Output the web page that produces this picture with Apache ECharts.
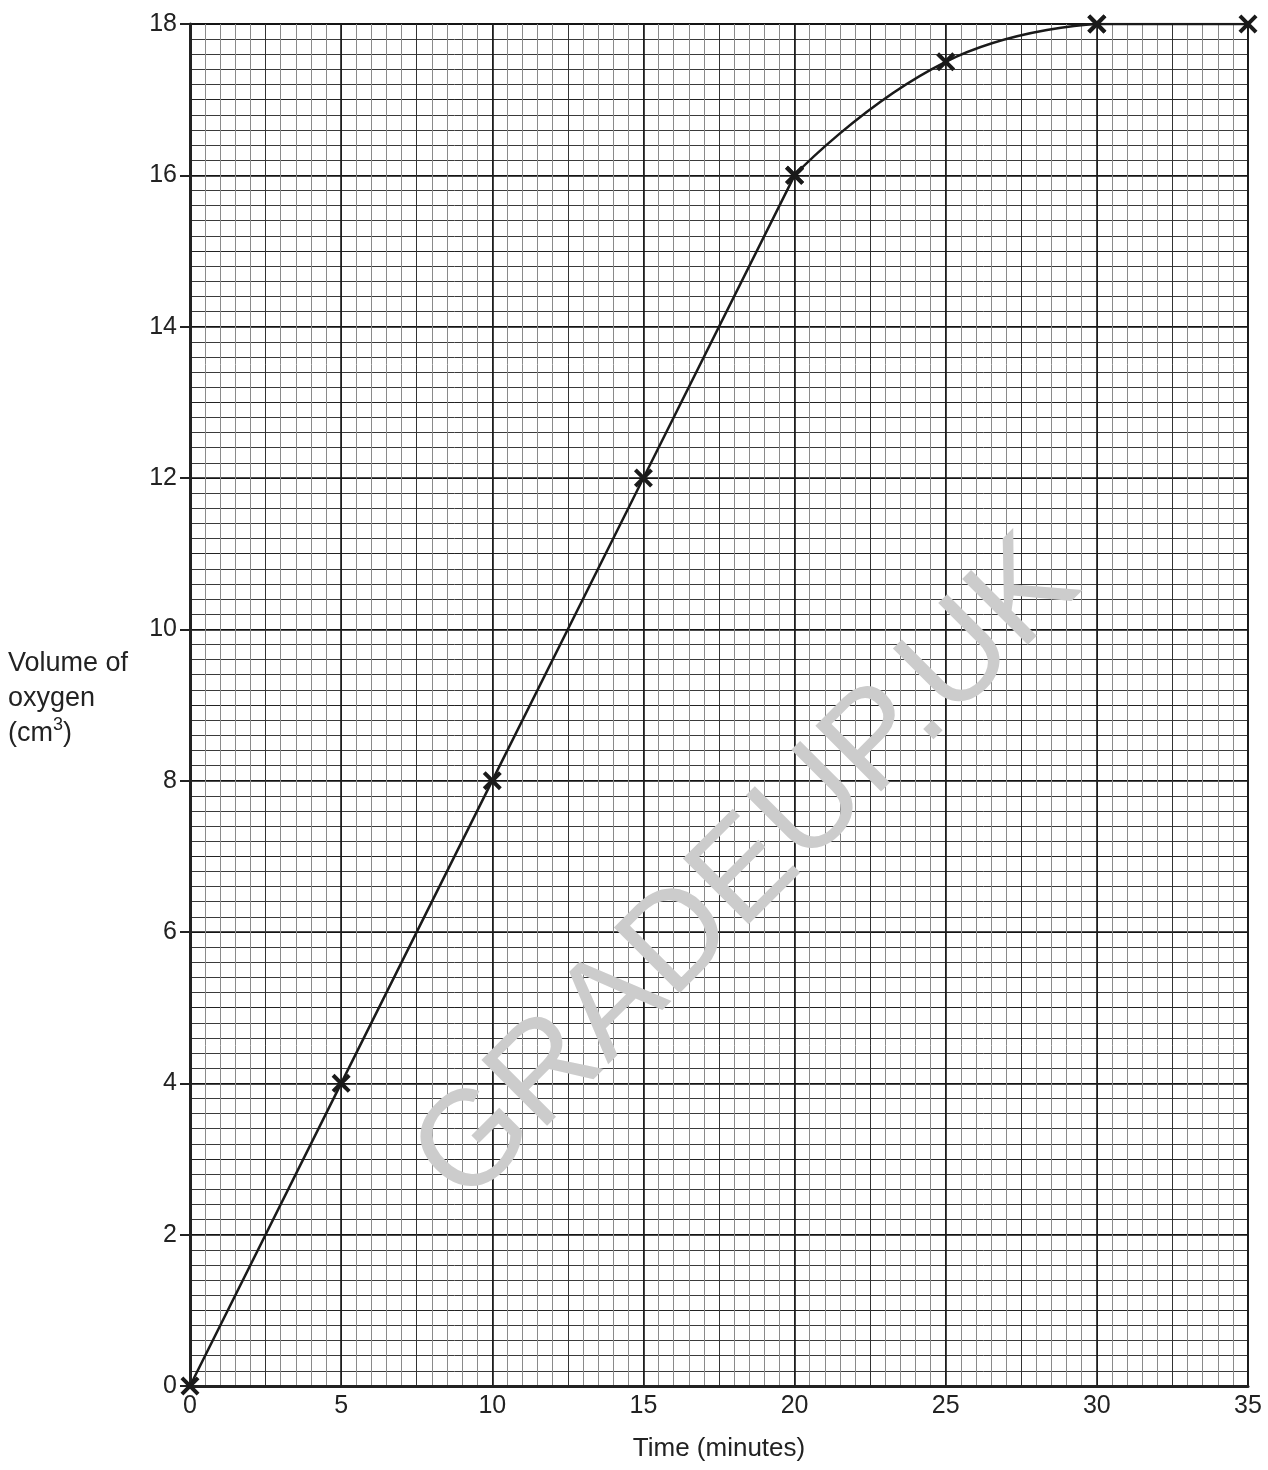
<!DOCTYPE html>
<html>
<head>
<meta charset="utf-8">
<script src="https://cdn.jsdelivr.net/npm/echarts@6/dist/echarts.min.js"></script>
<style>
  html, body { margin: 0; padding: 0; background: #fff; }
  #main { width: 1268px; height: 1470px; }
</style>
</head>
<body>
<div id="main"></div>
<script>
// data
var times = [0, 5, 10, 15, 20, 25, 30, 35];
var oxygen = [0, 4, 8, 12, 16, 17.5, 18, 18];
var xTicks = [0, 5, 10, 15, 20, 25, 30, 35];
var yTicks = [0, 2, 4, 6, 8, 10, 12, 14, 16, 18];

var font = 'Liberation Sans, Arial, sans-serif';
var crossPath = 'path://M0,1.5L1.5,0L10,8.5L8.5,10Z M8.5,0L10,1.5L1.5,10L0,8.5Z';
var pts = times.map(function (t, i) { return [t, oxygen[i]]; });

function gridAxis(pos, max, interval, color) {
    return {
        type: 'value', position: pos, min: 0, max: max, interval: interval,
        axisLine: { show: false }, axisTick: { show: false }, axisLabel: { show: false },
        splitLine: { show: true, lineStyle: { color: color, width: 1 } }
    };
}

var myChart = echarts.init(document.getElementById('main'));

var xMajor = {
    type: 'value', position: 'bottom', min: 0, max: 35, interval: 5,
    name: 'Time (minutes)', nameLocation: 'middle', nameGap: 50,
    nameTextStyle: { fontFamily: font, fontSize: 26, color: '#222' },
    axisLine: { show: true, lineStyle: { color: '#222', width: 3 } },
    axisTick: { show: false },
    axisLabel: { fontFamily: font, fontSize: 25, color: '#222', margin: 8,
        formatter: function (v) { return xTicks.indexOf(v) >= 0 ? String(v) : ''; } },
    splitLine: { show: true, lineStyle: { color: '#1a1a1a', width: 1.6 } }
};

var yMajor = {
    type: 'value', position: 'left', min: 0, max: 18, interval: 2,
    axisLine: { show: true, lineStyle: { color: '#222', width: 3 } },
    axisTick: { show: true, length: 10, lineStyle: { color: '#222', width: 2 } },
    axisLabel: { fontFamily: font, fontSize: 25, color: '#222', margin: 13,
        formatter: function (v) { return yTicks.indexOf(v) >= 0 ? String(v) : ''; } },
    splitLine: { show: true, lineStyle: { color: '#111', width: 1.6 } }
};

function lineSeries(data, smooth) {
    return {
        type: 'line', xAxisIndex: 2, yAxisIndex: 2, z: 5,
        data: data, smooth: smooth,
        symbol: crossPath, symbolSize: 19, showAllSymbol: true,
        lineStyle: { color: '#1a1a1a', width: 2.5 },
        itemStyle: { color: '#1a1a1a' }
    };
}

myChart.setOption({
    animation: false,
    backgroundColor: '#fff',
    grid: { left: 190, right: 20, top: 24, bottom: 84, show: true, containLabel: false,
            outerBoundsMode: 'none',
            borderColor: '#222', borderWidth: 2, backgroundColor: 'transparent' },
    xAxis: [gridAxis('bottom', 35, 0.5, '#8a8a8a'), gridAxis('bottom', 35, 2.5, '#333'), xMajor],
    yAxis: [gridAxis('left', 18, 0.2, '#3a3a3a'), gridAxis('left', 18, 1, '#222'), yMajor],
    graphic: [
        {
            type: 'text', z: 1, x: 748, y: 872, rotation: Math.PI / 180 * 45,
            style: { text: 'GRADEUP.UK', fontFamily: font, fontSize: 135, fill: '#cccccc',
                     align: 'center', verticalAlign: 'middle' }
        },
        {
            type: 'text', z: 3, left: 8, top: 646,
            style: {
                text: 'Volume of\noxygen\n(cm{sup|3})',
                fontFamily: font, fontSize: 27, fill: '#222', lineHeight: 35,
                rich: { sup: { fontFamily: font, fontSize: 18, fill: '#222', verticalAlign: 'top', lineHeight: 35, padding: [0, 0, 10, 0] } }
            }
        }
    ],
    series: [
        lineSeries(pts.slice(0, 5), false),
        lineSeries(pts.slice(4, 7), 0.5),
        lineSeries(pts.slice(6), false)
    ]
});
</script>
</body>
</html>
